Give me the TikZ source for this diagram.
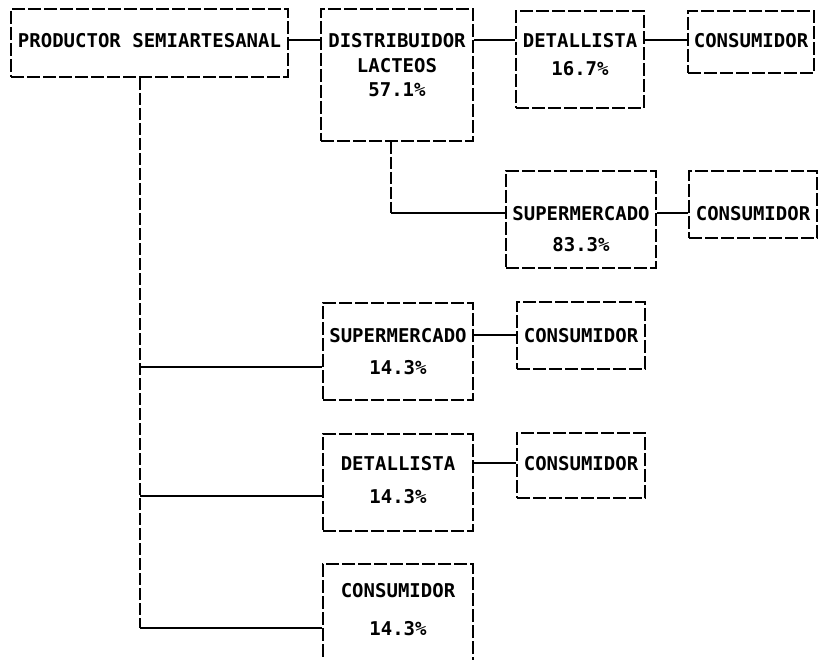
\documentclass[tikz,border=0pt]{standalone}
\usepackage{fontspec}
\newfontfamily\matriz{DejaVu Sans Mono}
\usetikzlibrary{positioning}
\tikzset{
	caja/.style={
		draw, line width=2pt,
		dash pattern=on 13pt off 3pt,
		anchor=north west,
		inner sep=0pt},
	texto/.style={
		inner sep=0pt,
		font=\matriz\bfseries\fontsize{19}{22}\selectfont},
	linea/.style={draw, line width=2pt},
	tronco/.style={draw, line width=2pt, dash pattern=on 12pt off 3pt},
}
\begin{document}
\begin{tikzpicture}[x=1pt,y=-1pt]
	\clip (0,0) rectangle (818,660);
	% cajas
	\node[caja, minimum width=277pt, minimum height=68pt] (prod) at (10,8) {};
	\node[caja, minimum width=152pt, minimum height=132pt] (dist) at (320,8) {};
	\node[caja, minimum width=128pt, minimum height=97pt] (det1) at (515,10) {};
	\node[caja, minimum width=126pt, minimum height=62pt] (con1) at (687,10) {};
	\node[caja, minimum width=150pt, minimum height=97pt] (sup1) at (505,170) {};
	\node[caja, minimum width=128pt, minimum height=67pt] (con2) at (688,170) {};
	\node[caja, minimum width=150pt, minimum height=97pt] (sup2) at (322,302) {};
	\node[caja, minimum width=128pt, minimum height=67pt] (con3) at (516,301) {};
	\node[caja, minimum width=150pt, minimum height=97pt] (det2) at (322,433) {};
	\node[caja, minimum width=128pt, minimum height=65pt] (con4) at (516,432) {};
	\node[caja, minimum width=150pt, minimum height=100pt] (con5) at (322,563) {};

	% textos
	\node[texto, below=25pt of prod.north] (proda) {PRODUCTOR SEMIARTESANAL};
	\node[texto, below=25pt of dist.north] (dista) {DISTRIBUIDOR};
	\node[texto, below=10pt of dista] (distb) {LACTEOS};
	\node[texto, below=10pt of distb] (distc) {57.1\%};
	\node[texto, below=23pt of det1.north] (det1a) {DETALLISTA};
	\node[texto, below=13pt of det1a] (det1b) {16.7\%};
	\node[texto, below=23pt of con1.north] (con1a) {CONSUMIDOR};
	\node[texto, below=36pt of sup1.north] (sup1a) {SUPERMERCADO};
	\node[texto, below=16pt of sup1a] (sup1b) {83.3\%};
	\node[texto, below=36pt of con2.north] (con2a) {CONSUMIDOR};
	\node[texto, below=26pt of sup2.north] (sup2a) {SUPERMERCADO};
	\node[texto, below=17pt of sup2a] (sup2b) {14.3\%};
	\node[texto, below=27pt of con3.north] (con3a) {CONSUMIDOR};
	\node[texto, below=23pt of det2.north] (det2a) {DETALLISTA};
	\node[texto, below=18pt of det2a] (det2b) {14.3\%};
	\node[texto, below=24pt of con4.north] (con4a) {CONSUMIDOR};
	\node[texto, below=20pt of con5.north] (con5a) {CONSUMIDOR};
	\node[texto, below=23pt of con5a] (con5b) {14.3\%};

	% conexiones
	\draw[linea] (prod.east |- proda) -- (dist.west |- proda);
	\draw[linea] (dist.east |- dista) -- (det1.west |- dista);
	\draw[linea] (det1.east |- det1a) -- (con1.west |- det1a);
	\coordinate (bajada) at ([xshift=-6pt]dist.south);
	\draw[tronco] (bajada) -- (bajada |- sup1a);
	\draw[linea] (bajada |- sup1a) -- (sup1.west |- sup1a);
	\draw[linea] (sup1.east |- sup1a) -- (con2.west |- sup1a);
	\coordinate (raiz) at ([xshift=-10pt]prod.south);
	\draw[tronco] (raiz) -- (raiz |- con5b);
	\draw[linea] (raiz |- sup2b) -- (sup2.west |- sup2b);
	\draw[linea] (raiz |- det2b) -- (det2.west |- det2b);
	\draw[linea] (raiz |- con5b) -- (con5.west |- con5b);
	\draw[linea] (sup2.east |- sup2a) -- (con3.west |- sup2a);
	\draw[linea] (det2.east |- det2a) -- (con4.west |- det2a);
\end{tikzpicture}
\end{document}
